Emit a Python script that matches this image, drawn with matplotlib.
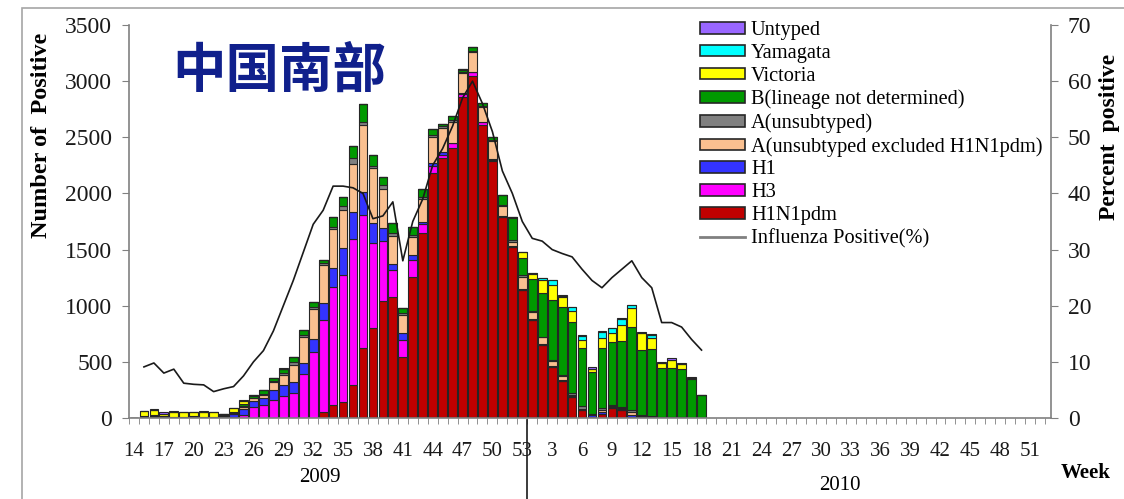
# -*- coding: utf-8 -*-
"""
Weekly influenza positives by type, southern China, 2009-2010.
"""

import numpy as np
import matplotlib.pyplot as plt
from matplotlib.patches import Patch, Rectangle
from matplotlib.lines import Line2D

plt.rcParams['font.family'] = ['Liberation Serif', 'DejaVu Serif']

# week numbers shown on the category axis (2009 wk14..53, 2010 wk1..52)
weeks_2009 = list(range(14, 54))
weeks_2010 = list(range(1, 53))

# counts per week, 2009 wk14 .. 2010 wk18
h1n1pdm = [0, 0, 0, 0, 0, 0, 0, 0, 0, 0, 0, 0, 0, 0, 0, 0, 0, 0, 0,
           53, 116, 142, 294, 623, 801, 1042, 1078, 543, 1256, 1648,
           2182, 2316, 2405, 2859, 3046, 2610, 2289, 1790, 1523, 1140,
           870, 650, 450, 330, 187, 71, 0, 40, 90, 70, 10, 5, 0, 0, 0, 0, 0, 0]
h3 = [0, 0, 0, 0, 0, 0, 0, 0, 0, 5, 10, 30, 100, 115, 160, 195, 225, 390, 590,
      820, 1051, 1132, 1300, 1185, 757, 534, 240, 152, 151, 80,
      62, 30, 40, 30, 35, 26, 10, 0, 0, 0,
      0, 0, 0, 0, 0, 0, 5, 0, 0, 0, 0, 0, 0, 0, 0, 0, 0, 0]
h1 = [0, 5, 10, 10, 5, 5, 5, 5, 5, 10, 30, 50, 50, 60, 90, 100, 95, 100, 110,
      150, 169, 240, 241, 205, 179, 116, 53, 62, 45, 17,
      27, 23, 4, 5, 0, 0, 5, 5, 10, 10,
      10, 10, 10, 10, 10, 10, 20, 10, 10, 10, 15, 10, 10, 5, 5, 5, 0, 0]
a_excl = [0, 0, 0, 0, 0, 0, 0, 0, 0, 0, 0, 15, 25, 30, 70, 90, 150, 230, 270,
          340, 347, 338, 427, 597, 489, 348, 247, 160, 160, 205,
          233, 214, 187, 179, 180, 134, 164, 95, 35, 107,
          60, 60, 50, 35, 10, 0, 0, 20, 10, 5, 30, 10, 0, 0, 0, 0, 0, 0]
a_unsub = [0, 5, 5, 0, 0, 0, 0, 0, 0, 10, 5, 10, 5, 10, 10, 20, 25, 20, 20,
           15, 20, 40, 54, 26, 20, 35, 30, 18, 18, 18,
           20, 15, 15, 10, 10, 10, 10, 10, 20, 17,
           10, 5, 5, 10, 20, 30, 10, 15, 10, 15, 15, 0, 10, 4, 0, 0, 0, 0]
b_undet = [0, 5, 10, 5, 5, 5, 10, 5, 5, 10, 10, 20, 20, 30, 25, 35, 45, 40, 40,
           30, 87, 78, 106, 160, 96, 71, 89, 45, 71, 72,
           50, 20, 39, 20, 33, 25, 25, 86, 190, 150,
           285, 385, 535, 600, 630, 516, 375, 535, 560, 590, 740, 580, 595,
           440, 440, 430, 350, 205]
victoria = [0, 45, 50, 25, 45, 40, 35, 45, 40, 5, 30, 30, 5, 0, 0, 0, 0, 0, 0,
            0, 0, 0, 0, 0, 0, 0, 0, 0, 0, 0,
            0, 0, 0, 5, 0, 0, 0, 0, 10, 50,
            45, 115, 135, 90, 100, 71, 30, 90, 80, 140, 170, 150, 100,
            45, 75, 45, 10, 0]
yamagata = [0, 0, 0, 0, 0, 0, 0, 0, 0, 0, 0, 0, 0, 0, 0, 0, 0, 0, 0,
            0, 0, 0, 0, 0, 0, 0, 0, 0, 0, 0,
            0, 0, 0, 0, 0, 0, 0, 0, 0, 4,
            8, 20, 45, 10, 35, 36, 0, 55, 40, 55, 26, 0, 27, 0, 0, 0, 0, 0]
untyped = [0, 5, 5, 10, 5, 5, 5, 5, 5, 0, 5, 5, 0, 5, 5, 5, 5, 5, 5,
           0, 0, 0, 0, 0, 0, 0, 0, 0, 0, 0,
           0, 0, 0, 0, 0, 0, 0, 0, 2, 0,
           3, 0, 0, 10, 0, 5, 10, 10, 2, 5, 0, 10, 5, 5, 10, 10, 5, 0]

# percent positive, same weeks (nan = no data)
pct_pos = [np.nan, 9.1, 9.8, 8.0, 8.7, 6.2, 6.0, 5.9, 4.7, 5.2, 5.6, 7.5, 10.0,
           12.0, 15.5, 20.0, 24.5, 29.5, 34.5, 37.0, 41.3, 41.3, 41.0, 40.0,
           35.5, 36.0, 38.5, 28.0, 35.0, 39.0, 45.0, 48.0, 52.0, 57.0, 60.0,
           56.0, 51.0, 44.0, 40.0, 35.0,
           32.0, 31.5, 30.0, 29.3, 28.7, 26.5, 24.5, 23.2, 25.0, 26.5, 28.0,
           25.0, 23.2, 17.0, 17.0, 16.2, 14.0, 12.1]

series = [('H1N1pdm', h1n1pdm, '#C00000'),
          ('H3', h3, '#FF00FF'),
          ('H1', h1, '#3333FF'),
          ('A(unsubtyped excluded H1N1pdm)', a_excl, '#FAC090'),
          ('A(unsubtyped)', a_unsub, '#808080'),
          ('B(lineage not determined)', b_undet, '#009900'),
          ('Victoria', victoria, '#FFFF00'),
          ('Yamagata', yamagata, '#00FFFF'),
          ('Untyped', untyped, '#9966FF')]

n_slots = len(weeks_2009) + len(weeks_2010)
x = np.arange(len(h1n1pdm))

fig = plt.figure(figsize=(11.24, 4.99), dpi=100)
ax = fig.add_axes([129/1124, 1-418/499, (1051-129)/1124, (418-25)/499])

bottom = np.zeros(len(x))
for name, vals, col in series:
    vals = np.array(vals, dtype=float)
    ax.bar(x, vals, width=0.88, bottom=bottom, color=col,
           edgecolor='#262626', linewidth=0.8, zorder=2)
    bottom += vals

ax.set_xlim(-0.5, n_slots + 0.1)
ax.set_ylim(0, 3500)
ax.set_yticks(np.arange(0, 3501, 500))
ax.tick_params(axis='y', labelsize=17, length=5, color='#808080', pad=7,
               labelcolor='#1a1a1a')

# category labels every third week, small ticks between every week
labels = [str(w) for w in weeks_2009 + weeks_2010]
ax.set_xticks(np.arange(0, n_slots, 3))
ax.set_xticklabels(labels[::3])
ax.set_xticks(np.arange(n_slots + 1) - 0.5, minor=True)
ax.tick_params(axis='x', which='major', length=0, labelsize=15, pad=17,
               labelcolor='#1a1a1a')
ax.tick_params(axis='x', which='minor', length=4, color='#808080')

for s in ['top', 'right']:
    ax.spines[s].set_visible(False)
for s in ['left', 'bottom']:
    ax.spines[s].set_color('#808080')
    ax.spines[s].set_linewidth(1.2)

ax2 = ax.twinx()
ax2.plot(x, pct_pos, color='#1a1a1a', linewidth=1.2, zorder=3)
ax2.set_ylim(0, 70)
ax2.set_yticks(np.arange(0, 71, 10))
ax2.tick_params(axis='y', labelsize=17, length=5, color='#808080', pad=7,
                labelcolor='#1a1a1a')
for s in ['top', 'left', 'bottom']:
    ax2.spines[s].set_visible(False)
ax2.spines['right'].set_color('#808080')
ax2.spines['right'].set_linewidth(1.2)

# legend, top entry first
handles = [Patch(facecolor=col, edgecolor='#262626', linewidth=1.2, label=name)
           for name, vals, col in series[::-1]]
handles.append(Line2D([], [], color='#808080', linewidth=2,
                      label='Influenza Positive(%)'))
fig.legend(handles=handles, loc='upper left',
           bbox_to_anchor=(700/1124, 1-21/499), frameon=False,
           fontsize=14.7, handlelength=2.2, handleheight=0.5,
           handletextpad=0.3, labelspacing=0.19, borderpad=0, borderaxespad=0)

fig.text(172/1124, 1-71/499, '中国南部', fontsize=38.5, fontweight='bold',
         color='#10208C', family=['Noto Sans CJK SC', 'DejaVu Sans'],
         ha='left', va='center')

fig.text(42/1124, 1-135/499, 'Number of  Positive', rotation=90,
         fontsize=17.5, fontweight='bold', ha='center', va='center')
fig.text(1110/1124, 1-137/499, 'Percent  positive', rotation=90,
         fontsize=17, fontweight='bold', ha='center', va='center')
fig.text(1086/1124, 1-473/499, 'Week', fontsize=15, fontweight='bold',
         ha='center', va='center')
fig.text(320/1124, 1-478/499, '2009', fontsize=15, ha='center', va='center')
fig.text(840/1124, 1-485/499, '2010', fontsize=15, ha='center', va='center')

# divider between the two years under the axis
xd = ax.transData.transform((len(weeks_2009) - 0.5, 0))[0] / fig.bbox.width
fig.add_artist(Line2D([xd, xd], [0, 1-420/499], color='#1a1a1a',
                      linewidth=1.2))

# outer frame
fig.add_artist(Rectangle((22/1124, -0.1), 1.2, 1.1 - 8/499, fill=False,
                         edgecolor='#A6A6A6', linewidth=1.2,
                         transform=fig.transFigure))

fig.savefig('out.png', dpi=100)
